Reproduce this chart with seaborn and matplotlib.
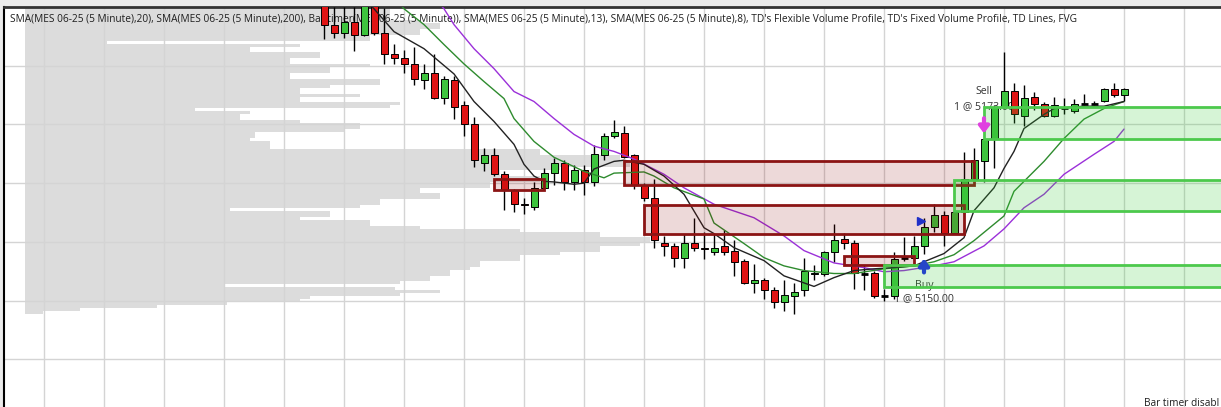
import matplotlib
matplotlib.use("Agg")
import matplotlib.pyplot as plt
import matplotlib.transforms as mtransforms
from matplotlib.patches import Rectangle
import numpy as np
import pandas as pd
import seaborn as sns

# MES 06-25, 5 minute bars (bar 0 = first bar on screen)
opens = [5190.25, 5187.0, 5185.5, 5187.5, 5185.25, 5190.25, 5185.5, 5182.0, 5181.25, 5180.25,
         5177.5, 5178.75, 5174.5, 5177.5, 5173.25, 5170.0, 5163.5, 5164.75, 5161.5, 5158.75,
         5156.5, 5156.0, 5159.25, 5161.75, 5163.5, 5160.25, 5162.25, 5160.25, 5164.75, 5168.0,
         5168.5, 5164.75, 5159.75, 5157.5, 5149.75, 5149.25, 5147.25, 5149.75, 5149.0, 5148.25,
         5149.25, 5148.5, 5146.75, 5143.0, 5143.5, 5141.75, 5139.75, 5140.75, 5141.75, 5144.5,
         5144.5, 5148.25, 5150.5, 5149.75, 5144.5, 5144.75, 5140.75, 5140.75, 5147.25, 5147.25,
         5149.25, 5152.5, 5154.5, 5151.5, 5155.0, 5160.75, 5163.75, 5167.5, 5173.0, 5175.75,
         5171.5, 5174.75, 5173.5, 5171.5, 5172.75, 5172.25, 5173.5, 5173.5, 5174.0, 5176.0,
         5175.0]
highs = [5191.75, 5190.0, 5190.0, 5190.0, 5191.25, 5190.75, 5189.75, 5183.75, 5182.75, 5183.25,
         5180.25, 5182.0, 5178.25, 5178.25, 5174.0, 5171.25, 5166.0, 5166.0, 5162.0, 5159.0,
         5157.5, 5160.25, 5162.5, 5164.25, 5164.0, 5163.0, 5163.0, 5166.5, 5168.5, 5170.75,
         5169.75, 5165.0, 5160.0, 5160.75, 5151.0, 5149.75, 5151.25, 5154.0, 5151.75, 5151.25,
         5152.0, 5150.25, 5147.0, 5146.25, 5143.75, 5142.25, 5143.5, 5143.0, 5147.25, 5146.0,
         5148.5, 5153.0, 5151.5, 5150.25, 5146.0, 5145.0, 5142.0, 5148.25, 5150.75, 5151.0,
         5154.0, 5156.5, 5155.25, 5155.25, 5165.25, 5166.0, 5167.75, 5173.25, 5182.25, 5177.0,
         5176.75, 5175.5, 5173.75, 5174.75, 5174.5, 5174.25, 5175.25, 5174.0, 5176.25, 5177.0,
         5176.25]
lows = [5184.5, 5184.75, 5184.75, 5182.5, 5185.0, 5185.25, 5180.25, 5180.25, 5178.75, 5176.75,
        5176.0, 5174.25, 5173.5, 5171.0, 5168.0, 5162.75, 5162.0, 5161.25, 5155.5, 5155.0,
        5154.75, 5155.5, 5158.75, 5159.75, 5158.75, 5158.75, 5158.0, 5159.5, 5164.0, 5167.75,
        5164.25, 5159.0, 5157.0, 5149.0, 5147.5, 5145.75, 5145.5, 5148.5, 5147.0, 5147.75,
        5147.75, 5144.25, 5142.75, 5141.25, 5140.25, 5138.75, 5138.25, 5137.75, 5140.75, 5143.5,
        5144.25, 5146.5, 5148.75, 5142.0, 5141.75, 5140.5, 5140.0, 5140.25, 5146.75, 5147.0,
        5148.0, 5151.75, 5149.25, 5151.5, 5154.75, 5160.5, 5160.25, 5162.5, 5172.75, 5170.25,
        5169.75, 5172.5, 5171.25, 5171.25, 5171.75, 5172.0, 5173.25, 5173.25, 5173.75, 5174.75,
        5174.0]
closes = [5187.0, 5185.5, 5187.5, 5185.25, 5190.5, 5185.5, 5182.0, 5181.25, 5180.25, 5177.75,
          5178.75, 5174.5, 5177.75, 5173.0, 5170.0, 5164.0, 5164.75, 5161.5, 5158.75, 5156.5,
          5156.25, 5159.25, 5161.75, 5163.5, 5160.25, 5162.25, 5160.25, 5165.0, 5168.0, 5168.75,
          5164.5, 5159.75, 5157.5, 5150.25, 5149.25, 5147.25, 5149.75, 5149.0, 5148.75, 5149.0,
          5148.25, 5146.5, 5143.0, 5143.5, 5141.75, 5139.75, 5141.0, 5141.5, 5145.0, 5144.75,
          5148.25, 5150.25, 5149.75, 5144.75, 5144.5, 5140.75, 5140.75, 5147.0, 5147.25, 5149.25,
          5152.5, 5154.5, 5151.5, 5155.0, 5160.75, 5164.0, 5167.5, 5173.0, 5175.75, 5171.75,
          5174.5, 5173.5, 5171.5, 5173.25, 5172.75, 5173.5, 5173.5, 5173.5, 5176.0, 5175.0,
          5176.0]

# moving averages
sma8_bars = [3, 5, 7, 10, 13, 15, 17, 19, 20, 21, 22, 23, 25, 26, 27, 29, 30, 32, 34, 36, 38, 39,
             41, 44, 46, 49, 51, 53, 55, 57, 59, 62, 64, 65, 67, 68, 69, 70, 72, 73, 76, 78, 80]
sma8_vals = [5193.0, 5189.7, 5185.8, 5182.9, 5178.6, 5173.9, 5170.5, 5166.6, 5163.2, 5161.2,
             5160.3, 5160.2, 5159.8, 5160.0, 5162.4, 5163.7, 5163.9, 5163.2, 5161.2, 5158.1,
             5152.4, 5151.4, 5149.0, 5146.8, 5144.2, 5142.4, 5143.9, 5145.1, 5145.4, 5145.6,
             5145.9, 5148.0, 5150.7, 5155.3, 5159.2, 5162.5, 5165.4, 5169.3, 5171.7, 5172.7,
             5173.1, 5173.1, 5173.9]
sma13_bars = [6, 8, 10, 12, 14, 16, 18, 19, 21, 23, 26, 28, 29, 32, 33, 35, 38, 39, 42, 44, 46,
              48, 51, 53, 56, 59, 61, 63, 65, 68, 69, 72, 74, 76, 78, 80]
sma13_vals = [5193.5, 5189.7, 5187.0, 5183.6, 5180.3, 5177.3, 5174.4, 5171.0, 5167.1, 5164.4,
              5162.0, 5160.9, 5161.7, 5161.9, 5161.2, 5159.2, 5157.3, 5153.2, 5149.7, 5147.3,
              5145.9, 5145.1, 5144.6, 5144.6, 5145.4, 5145.9, 5146.6, 5147.8, 5150.2, 5154.4,
              5158.6, 5163.7, 5167.6, 5170.9, 5172.7, 5173.9]
sma20_bars = [10, 12, 13, 15, 17, 19, 21, 23, 25, 27, 29, 31, 34, 36, 39, 43, 46, 48, 51, 54, 56,
              58, 61, 63, 66, 68, 70, 72, 74, 77, 79, 80]
sma20_vals = [5193.5, 5189.7, 5187.0, 5182.9, 5179.5, 5175.6, 5173.9, 5171.0, 5168.3, 5166.3,
              5165.4, 5164.1, 5161.5, 5159.2, 5156.4, 5154.1, 5151.0, 5148.5, 5146.4, 5145.6,
              5144.9, 5145.1, 5145.9, 5146.6, 5149.3, 5152.2, 5155.8, 5158.1, 5161.5, 5164.9,
              5167.1, 5169.2]

# volume profile, 0.5 pt rows from 5190.00 down
vp_top = 5190.0
vp_volume = [365, 365, 365, 365, 365, 395, 415, 415, 395, 395, 345, 345, 82, 275, 225, 225, 295,
             295, 265, 265, 345, 305, 305, 265, 265, 355, 355, 305, 275, 275, 335, 275, 275, 375,
             365, 170, 225, 215, 215, 275, 335, 335, 320, 230, 230, 225, 245, 245, 245, 515, 515,
             595, 595, 605, 605, 535, 475, 475, 515, 515, 465, 465, 395, 395, 415, 415, 355, 355,
             335, 205, 305, 305, 275, 345, 345, 395, 495, 575, 575, 625, 625, 615, 575, 575, 535,
             495, 495, 455, 455, 445, 425, 425, 405, 405, 375, 199, 370, 415, 375, 285, 275, 202,
             132, 55, 18]

# fair value gaps: start bar, end bar, low, high
fvg_bear = [(17, 22, 5158.75, 5160.75), (30, 65, 5159.75, 5163.75),
            (32, 64, 5151.25, 5156.25), (52, 59, 5146.0, 5147.5)]
fvg_bull = [(56, 5142.25, 5146.0), (63, 5155.25, 5160.5), (66, 5167.5, 5173.0)]

# executions
buy_bar, buy_price = 60, 5150.00
sell_bar, sell_price = 66, 5173.00
signal_bar, signal_price = 60, 5153.5

header = ("SMA(MES 06-25 (5 Minute),20), SMA(MES 06-25 (5 Minute),200), Bar timer(MES 06-25 (5 Minute)), "
          "SMA(MES 06-25 (5 Minute),13), SMA(MES 06-25 (5 Minute),8), TD's Flexible Volume Profile, "
          "TD's Fixed Volume Profile, TD Lines, FVG")
status = "Bar timer disabl"

sns.set_style("white")
plt.rcParams["font.family"] = ["Open Sans", "DejaVu Sans"]

W, H = 1221, 407
fig = plt.figure(figsize=(W / 100, H / 100), dpi=100, facecolor="#ebebeb")
rect = [4 / W, 0, 1217 / W, 400 / H]

# volume profile underneath everything
ax_vp = fig.add_axes(rect)
ax_vp.set_facecolor("white")
ax = fig.add_axes(rect, sharey=ax_vp)
ax.patch.set_alpha(0)

vp_prices = vp_top - 0.5 * np.arange(len(vp_volume))
ax_vp.barh(vp_prices, vp_volume, height=0.5, left=0, color="#dcdcdc", lw=0)
ax_vp.set_xlim(-21, 1196)
ax_vp.set_xticks([])
for s in ax_vp.spines.values():
    s.set_visible(False)

ax.set_xlim(-32, 89.7)
ax.set_ylim(5121.86, 5189.66)
ax.set_xticks(np.arange(-28, 90, 6))
ax.set_yticks(np.arange(5130, 5191, 10))
ax.grid(True, color="#d4d4d4", lw=1, zorder=1)
ax.set_axisbelow(True)
ax.tick_params(length=0, labelbottom=False, labelleft=False)
ax_vp.tick_params(length=0, labelbottom=False, labelleft=False)
for s in ["right", "bottom"]:
    ax.spines[s].set_visible(False)
ax.spines["top"].set_color("#333333")
ax.spines["top"].set_linewidth(2)
ax.spines["left"].set_color("black")
ax.spines["left"].set_linewidth(1.5)

# candles
df = pd.DataFrame({"open": opens, "high": highs, "low": lows, "close": closes})
df["bar"] = np.arange(len(df))
up = df[df.close > df.open]
dn = df[df.close < df.open]
flat = df[df.close == df.open]
ax.vlines(df.bar, df.low, df.high, color="black", lw=1, zorder=4)
ax.bar(up.bar, up.close - up.open, bottom=up.open, width=0.7, color="#3ec43e",
       edgecolor="black", lw=0.7, zorder=5)
ax.bar(dn.bar, dn.open - dn.close, bottom=dn.close, width=0.7, color="#e01414",
       edgecolor="black", lw=0.7, zorder=5)
ax.hlines(flat.close, flat.bar - 0.35, flat.bar + 0.35, color="black", lw=2, zorder=5)

# moving averages
sns.lineplot(x=sma20_bars, y=sma20_vals, ax=ax, color="#9b30d9", lw=1, zorder=6)
sns.lineplot(x=sma13_bars, y=sma13_vals, ax=ax, color="#2e8b2e", lw=1, zorder=6)
sns.lineplot(x=sma8_bars, y=sma8_vals, ax=ax, color="#222222", lw=1, zorder=6)

# FVG boxes
for x0, x1, lo, hi in fvg_bear:
    ax.add_patch(Rectangle((x0, lo), x1 - x0, hi - lo, facecolor=(0.55, 0, 0, 0.15),
                           edgecolor="#8b1414", lw=2, zorder=7))
for x0, lo, hi in fvg_bull:
    ax.add_patch(Rectangle((x0, lo), 100 - x0, hi - lo, facecolor=(0.2, 0.8, 0.2, 0.2),
                           edgecolor="#4cc94c", lw=2, zorder=7))

# executions
below = mtransforms.offset_copy(ax.transData, fig=fig, x=0, y=-3.6, units="points")
above = mtransforms.offset_copy(ax.transData, fig=fig, x=0, y=3, units="points")
ax.annotate("", xy=(buy_bar, lows[buy_bar]), xycoords=below,
            xytext=(0, -10), textcoords="offset points",
            arrowprops=dict(arrowstyle="-|>,head_width=0.3,head_length=0.4", lw=3,
                            color="#2545c8", shrinkA=0, shrinkB=0), zorder=8)
ax.annotate("", xy=(sell_bar, highs[sell_bar]), xycoords=above,
            xytext=(0, 11), textcoords="offset points",
            arrowprops=dict(arrowstyle="-|>,head_width=0.3,head_length=0.4", lw=3,
                            color="#e040e0", shrinkA=0, shrinkB=0), zorder=8)
left = mtransforms.offset_copy(ax.transData, fig=fig, x=-2, y=0, units="points")
ax.plot(signal_bar, signal_price, marker=">", ms=6, color="#2030c8", transform=left, zorder=8)

txt = dict(ha="center", va="center", fontsize=7.6, color="#333333", zorder=3)
ax.annotate("Buy", xy=(buy_bar, lows[buy_bar]), xytext=(0, -23), textcoords="offset points", **txt)
ax.annotate(f"1 @ {buy_price:.2f}", xy=(buy_bar, lows[buy_bar]), xytext=(0, -32.5),
            textcoords="offset points", **txt)
ax.annotate("Sell", xy=(sell_bar, highs[sell_bar]), xytext=(0, 33), textcoords="offset points", **txt)
ax.annotate(f"1 @ {sell_price:.2f}", xy=(sell_bar, highs[sell_bar]), xytext=(0, 22.5),
            textcoords="offset points", **txt)

# header and status text
head = ax.text(10 / W, 1 - 19 / H, header, transform=fig.transFigure, fontsize=7.6,
               va="center", ha="left", color="#1e1e1e", zorder=3)
fig.canvas.draw()
bb = head.get_window_extent()
head.set_fontsize(7.6 * 1060 / bb.width)
fig.text(1144 / W, 4 / H, status, fontsize=head.get_fontsize(),
         va="center", ha="left", color="#1e1e1e")

fig.savefig("out.png", dpi=100, facecolor=fig.get_facecolor())
